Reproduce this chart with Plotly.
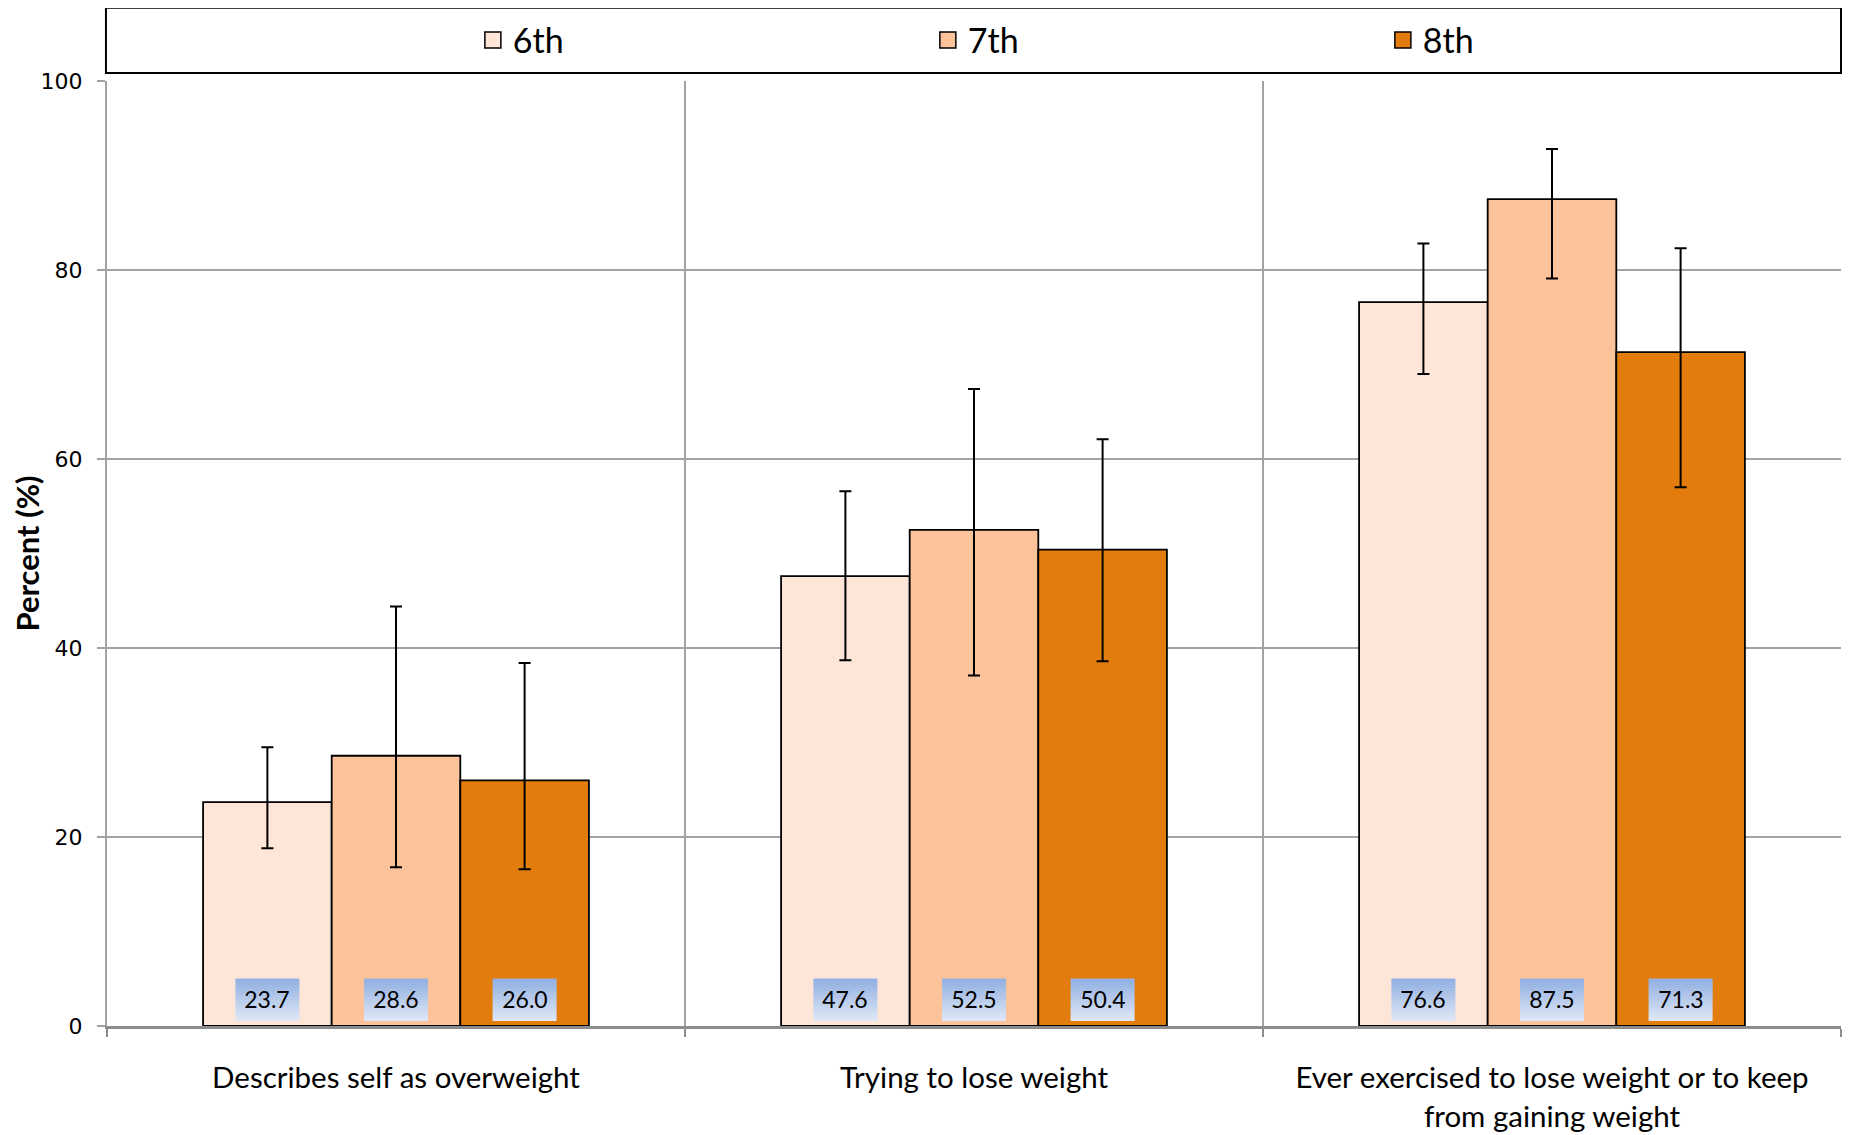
import plotly.graph_objects as go

# ---- data ----
categories = ["Describes self as overweight", "Trying to lose weight",
              "Ever exercised to lose weight or to keep<br>from gaining weight"]
series_names = ["6th", "7th", "8th"]
values_6th = [23.7, 47.6, 76.6]
values_7th = [28.6, 52.5, 87.5]
values_8th = [26.0, 50.4, 71.3]
upper_6th = [29.5, 56.6, 82.8]
lower_6th = [18.8, 38.7, 69.0]
upper_7th = [44.4, 67.4, 92.8]
lower_7th = [16.8, 37.1, 79.1]
upper_8th = [38.4, 62.1, 82.3]
lower_8th = [16.6, 38.6, 57.0]
y_ticks = [0, 20, 40, 60, 80, 100]

# ---- style ----
colors = ["#FDE6D8", "#FCC39B", "#E27C0C"]
bar_w = 0.2225
FONT = "Lato"
GRID = "#A3A3A3"
LBL_W, LBL_H, LBL_SHIFT = 64, 42, 5
GRAD_TOP, GRAD_BOT = (0x93, 0xB1, 0xE2), (0xDE, 0xE6, 0xF5)
N_BANDS = 14

vals = [values_6th, values_7th, values_8th]
ups = [upper_6th, upper_7th, upper_8th]
lows = [lower_6th, lower_7th, lower_8th]


def mix(t):
    c = [round(a + (b - a) * t) for a, b in zip(GRAD_TOP, GRAD_BOT)]
    return "rgb(%d,%d,%d)" % tuple(c)


fig = go.Figure()
annotations = []
shapes = [dict(type="rect", xref="paper", yref="paper",
               x0=-0.0006, x1=1.0, y0=1.0085, y1=1.0776,
               line=dict(color="black", width=2), fillcolor="rgba(0,0,0,0)")]
for j, name in enumerate(series_names):
    xs = [i + (j - 1) * bar_w for i in range(len(categories))]
    v = vals[j]
    fig.add_trace(go.Bar(
        name=name, x=xs, y=v, width=bar_w, showlegend=False,
        marker=dict(color=colors[j], line=dict(color="black", width=1.8)),
        error_y=dict(type="data", symmetric=False,
                     array=[u - a for u, a in zip(ups[j], v)],
                     arrayminus=[a - l for a, l in zip(v, lows[j])],
                     color="black", thickness=2, width=6),
    ))
    for x, a in zip(xs, v):
        # gradient label background: thin pixel-sized bands anchored at the bar
        band = LBL_H / N_BANDS
        for k in range(N_BANDS):
            y_lo = LBL_SHIFT + band * k
            shapes.append(dict(
                type="rect", xref="x", yref="y", layer="above",
                xsizemode="pixel", ysizemode="pixel", xanchor=x, yanchor=0,
                x0=-LBL_W / 2, x1=LBL_W / 2, y0=y_lo, y1=y_lo + band + 0.6,
                fillcolor=mix(1 - k / (N_BANDS - 1)), line=dict(width=0)))
        annotations.append(dict(
            x=x, y=0, xref="x", yref="y", text=f"{a:.1f}", showarrow=False,
            yanchor="bottom", yshift=LBL_SHIFT, borderpad=0, width=LBL_W, height=LBL_H,
            font=dict(family=FONT, size=23, color="black")))

# legend-only entries with larger square swatches
for j, name in enumerate(series_names):
    fig.add_trace(go.Scatter(
        name=name, x=[None], y=[None], mode="markers",
        marker=dict(symbol="square", size=21, color=colors[j],
                    line=dict(color="black", width=1.5))))

fig.update_layout(
    width=1843, height=1127,
    margin=dict(l=99, r=10, t=73, b=109, autoexpand=False),
    plot_bgcolor="white", paper_bgcolor="white",
    barmode="overlay",
    showlegend=True,
    legend=dict(orientation="h", x=0.211, y=1.043, xanchor="left", yanchor="middle",
                entrywidth=410, entrywidthmode="pixels",
                font=dict(family=FONT, size=34, color="black"),
                bgcolor="rgba(0,0,0,0)"),
    annotations=annotations,
    shapes=shapes,
    xaxis=dict(range=[-0.5, 2.5], tickvals=list(range(len(categories))), ticktext=categories,
               ticks="", showgrid=False, zeroline=False, automargin=False,
               ticklabelstandoff=24,
               showline=True, linecolor="#8C8C8C", linewidth=2.5,
               tickfont=dict(family=FONT, size=29.5, color="black"),
               minor=dict(tick0=-0.5, dtick=1, showgrid=True, gridcolor=GRID, gridwidth=1.5,
                          ticks="outside", ticklen=8, tickcolor="#8C8C8C", tickwidth=1.5)),
    yaxis=dict(range=[0, 100], tickvals=y_ticks, showgrid=True, gridcolor=GRID, gridwidth=1.5,
               zeroline=False, showline=True, linecolor="#A3A3A3", linewidth=2,
               automargin=False, ticklabelstandoff=10,
               ticks="outside", ticklen=8, tickcolor="#A3A3A3", tickwidth=1.5,
               tickfont=dict(family="DejaVu Sans", size=22, color="black"),
               title=dict(text="<b>Percent (%)</b>", standoff=20,
                          font=dict(family=FONT, size=31, color="black"))),
)

fig.write_html("out.html")
